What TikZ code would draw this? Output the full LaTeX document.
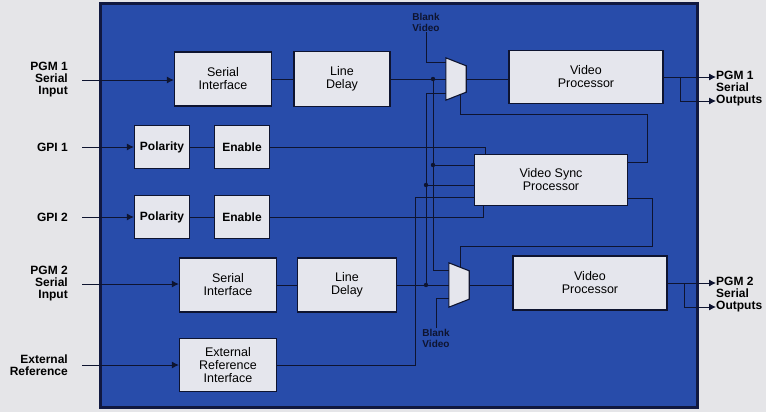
\documentclass[tikz,border=0pt]{standalone}
\usepackage{fontspec}
\setmainfont{Liberation Sans}
\usepackage{xcolor}
\usetikzlibrary{arrows.meta, positioning, calc}
\definecolor{paper}{RGB}{229,229,232}
\definecolor{panelblue}{RGB}{40,76,170}
\definecolor{paneledge}{RGB}{16,24,64}
\definecolor{boxgray}{RGB}{229,230,237}
\definecolor{wireink}{RGB}{14,20,48}

\begin{document}
\begin{tikzpicture}[
        x=1pt, y=-1pt,
        block/.style={rectangle, draw=wireink, line width=1.3pt, fill=boxgray, align=center, inner sep=2pt, font=\fontsize{12.5}{13}\selectfont},
        gpiblock/.style={block, minimum width=55pt, minimum height=43pt, font=\fontsize{12}{13}\selectfont\bfseries},
        muxnode/.style={rectangle, minimum width=20pt, inner sep=0pt},
        muxshape/.style={draw=wireink, line width=1.1pt, fill=boxgray},
        inlabel/.style={anchor=east, align=right, inner sep=0pt, font=\fontsize{12}{12}\selectfont\bfseries},
        outlabel/.style={anchor=west, align=left, inner sep=0pt, font=\fontsize{12}{12}\selectfont\bfseries},
        blanklabel/.style={align=center, inner sep=1pt, text=wireink, font=\fontsize{10}{11}\selectfont\bfseries},
        wire/.style={draw=wireink, line width=0.9pt},
        arrow/.style={wire, -{Latex[length=7pt, width=7pt]}},
        junction/.style={fill=wireink}
    ]
        \fill[paper] (0,0) rectangle (766,412);
        \useasboundingbox (0,0) rectangle (766,412);
        \draw[fill=panelblue, draw=paneledge, line width=3pt] (100,4) rectangle (697,407);

        \node[block, minimum width=97pt, minimum height=54pt] (si1) at (223,79) {Serial\\Interface};
        \node[block, minimum width=96pt, minimum height=55pt] (ld1) at (342,79) {Line\\Delay};
        \node[muxnode, minimum height=42pt] (mux1) at (456,79) {};
        \node[block, minimum width=154pt, minimum height=53pt] (vp1) at (586,77) {Video\\Processor};

        \node[gpiblock] (pol1) at (162,147) {Polarity};
        \node[gpiblock] (en1) at (242,147) {Enable};
        \node[gpiblock] (pol2) at (162,217) {Polarity};
        \node[gpiblock] (en2) at (242,217) {Enable};
        \node[block, minimum width=153pt, minimum height=51pt] (vsp) at (551,180) {Video Sync\\Processor};

        \node[block, minimum width=97pt, minimum height=54pt] (si2) at (228,285) {Serial\\Interface};
        \node[block, minimum width=99pt, minimum height=54pt] (ld2) at (347,285) {Line\\Delay};
        \node[muxnode, minimum height=44pt] (mux2) at (459,285) {};
        \node[block, minimum width=154pt, minimum height=54pt] (vp2) at (590,283) {Video\\Processor};
        \node[block, minimum width=97pt, minimum height=53pt] (eri) at (228,365) {External\\Reference\\Interface};

        \node[inlabel] (pgm1in) at (68,80) {PGM 1\\Serial\\Input};
        \node[inlabel] (gpi1in) at (68,147) {GPI 1};
        \node[inlabel] (gpi2in) at (68,217) {GPI 2};
        \node[inlabel] (pgm2in) at (68,284) {PGM 2\\Serial\\Input};
        \node[inlabel] (extin) at (68,365) {External\\Reference};
        \node[outlabel] (pgm1out) at (716,89) {PGM 1\\Serial\\Outputs};
        \node[outlabel] (pgm2out) at (716,295) {PGM 2\\Serial\\Outputs};
        \node[blanklabel] (blank1) at (426,22) {Blank\\Video};
        \node[blanklabel] (blank2) at (436,338) {Blank\\Video};

        \draw[muxshape] (mux1.north west) -- ([yshift=-8pt]mux1.north east) -- ([yshift=8pt]mux1.south east) -- (mux1.south west) -- cycle;
        \draw[muxshape] (mux2.north west) -- ([yshift=-8pt]mux2.north east) -- ([yshift=8pt]mux2.south east) -- (mux2.south west) -- cycle;
        \coordinate (m1b) at ($(mux1.south west)!0.7!([yshift=8pt]mux1.south east)$);
        \coordinate (m2t) at ($(mux2.north west)!0.55!([yshift=-8pt]mux2.north east)$);

        \coordinate (j1) at (433,79);
        \coordinate (j2) at (426,285);
        \coordinate (t1) at (433,165);
        \coordinate (t2) at (426,185);
        \coordinate (t3) at (415,197);
        \coordinate (b1) at (680,77);
        \coordinate (b2) at (684,283);

        \draw[arrow, shorten <=14pt] (pgm1in.east) -- (pgm1in.east -| si1.west);
        \draw[arrow, shorten <=14pt] (gpi1in.east) -- (gpi1in.east -| pol1.west);
        \draw[arrow, shorten <=14pt] (gpi2in.east) -- (gpi2in.east -| pol2.west);
        \draw[arrow, shorten <=14pt] (pgm2in.east) -- (pgm2in.east -| si2.west);
        \draw[arrow, shorten <=14pt] (extin.east) -- (extin.east -| eri.west);

        \draw[wire] (si1) -- (ld1);
        \draw[wire] (pol1) -- (en1);
        \draw[wire] (pol2) -- (en2);
        \draw[wire] (si2) -- (ld2);
        \draw[wire] (ld1.east) -- (ld1.east -| mux1.west);
        \draw[wire] (ld2.east) -- (ld2.east -| mux2.west);
        \draw[wire] (mux1.east) -- (mux1.east -| vp1.west);
        \draw[wire] (mux2.east) -- (mux2.east -| vp2.west);
        \draw[wire] (blank1.south) |- ([yshift=17pt]mux1.west);
        \draw[wire] (blank2.north) |- ([yshift=-13pt]mux2.west);
        \draw[wire] (j1) |- ([yshift=15pt]mux2.west);
        \draw[wire] (j2) |- ([yshift=-14pt]mux1.west);
        \draw[wire] (t1) -- (t1 -| vsp.west);
        \draw[wire] (t2) -- (t2 -| vsp.west);
        \draw[wire] (eri.east) -| (t3) -- (t3 -| vsp.west);
        \draw[wire] (en1.east) -| ([xshift=12pt]vsp.north west);
        \draw[wire] (en2.east) -| ([xshift=10pt]vsp.south west);
        \draw[wire] ([yshift=18pt]vsp.east) -| (647,114) -| (m1b);
        \draw[wire] ([yshift=-18pt]vsp.east) -| (652,246) -| (m2t);
        \fill[junction] (j1) circle (2.2pt) (j2) circle (2.2pt) (t1) circle (2.2pt) (t2) circle (2.2pt);

        \draw[arrow] (vp1.east) -- (vp1.east -| pgm1out.west);
        \draw[arrow] (b1) |- ([yshift=-12pt]pgm1out.west);
        \draw[arrow] (vp2.east) -- (vp2.east -| pgm2out.west);
        \draw[arrow] (b2) |- ([yshift=-12pt]pgm2out.west);
    \end{tikzpicture}
\end{document}
